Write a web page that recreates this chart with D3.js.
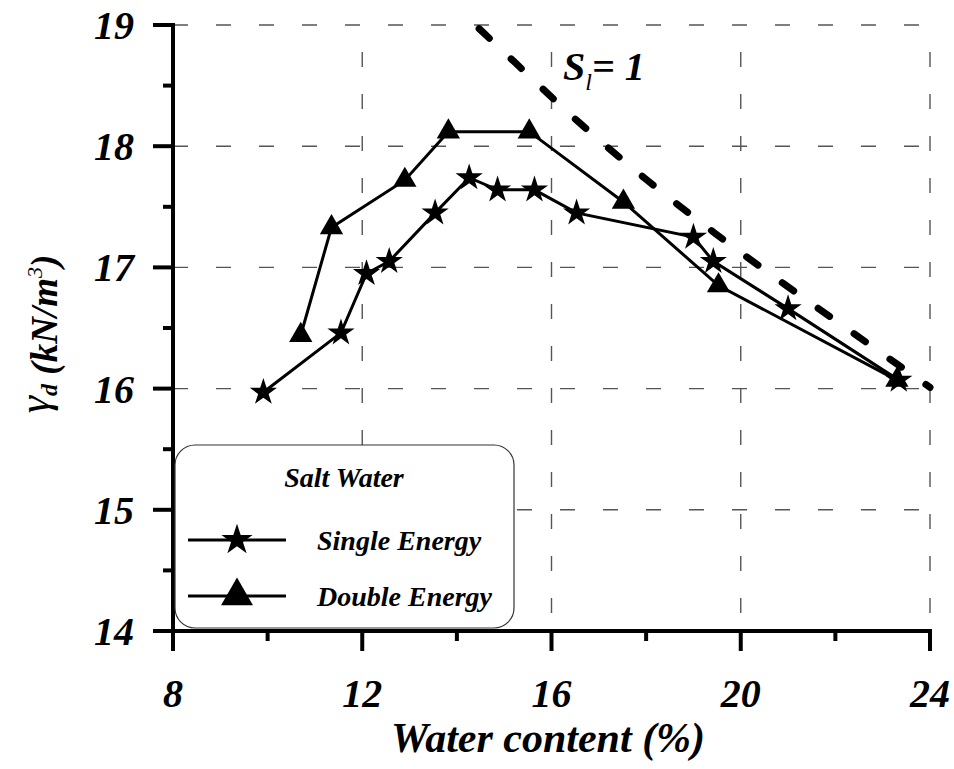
<!DOCTYPE html>
<html>
<head>
<meta charset="utf-8">
<script src="https://cdn.jsdelivr.net/npm/d3@7"></script>
<style>
    body { margin: 0; background: #fff; }
    svg text { font-family: "Liberation Serif", "Times New Roman", Times, "DejaVu Serif", serif; font-weight: 700; font-style: italic; fill: #000; }
</style>
</head>
<body>
<svg id="chart" width="954" height="769"></svg>
<script>
var xTicks = [8, 12, 16, 20, 24];
var xMinor = [10, 14, 18, 22];
var yTicks = [14, 15, 16, 17, 18, 19];
var yMinor = [14.5, 15.5, 16.5, 17.5, 18.5];

// single energy (stars)
var singleW = [9.91, 11.55, 12.09, 12.57, 13.54, 14.26, 14.86, 15.64, 16.53, 19.0, 19.42, 21.0, 23.34];
var singleG = [15.97, 16.46, 16.95, 17.05, 17.45, 17.74, 17.64, 17.64, 17.45, 17.25, 17.05, 16.66, 16.07];

// double energy (triangles)
var doubleW = [10.7, 11.35, 12.9, 13.82, 15.53, 17.52, 19.53, 23.3];
var doubleG = [16.44, 17.33, 17.72, 18.12, 18.12, 17.54, 16.85, 16.07];

// S_l = 1 line
var satW = [14.47, 15.23, 16.6, 18.02, 19.46, 20.89, 22.37, 24.0];
var satG = [18.97, 18.69, 18.19, 17.72, 17.28, 16.87, 16.46, 16.01];

var seriesNames = ["Single Energy", "Double Energy"];
var legendTitle = "Salt Water";

var FONT = '"Liberation Serif", "Times New Roman", Times, "DejaVu Serif", serif';

var svg = d3.select("#chart");
var x = d3.scaleLinear().domain([8, 24]).range([173, 930]);
var y = d3.scaleLinear().domain([14, 19]).range([631, 25]);

var pts = function(ws, gs) { return ws.map((w, i) => [w, gs[i]]); };
var single = pts(singleW, singleG);
var dbl = pts(doubleW, doubleG);
var sat = pts(satW, satG);

// grid
var grid = svg.append("g");
grid.selectAll(".hgrid")
    .data(yTicks.slice(1))
    .enter().append("line")
    .attr("x1", x(8)).attr("x2", x(24))
    .attr("y1", d => y(d)).attr("y2", d => y(d))
    .attr("stroke", "#555").attr("stroke-width", 1.4)
    .attr("stroke-dasharray", "15,28");
grid.selectAll(".vgrid")
    .data(xTicks.slice(1))
    .enter().append("line")
    .attr("x1", d => x(d)).attr("x2", d => x(d))
    .attr("y1", y(19)).attr("y2", y(14))
    .attr("stroke", "#555").attr("stroke-width", 1.4)
    .attr("stroke-dasharray", "15,27")
    .attr("stroke-dashoffset", 15);

// saturation line
var satLine = d3.line().x(d => x(d[0])).y(d => y(d[1])).curve(d3.curveMonotoneX);
svg.append("path")
    .attr("d", satLine(sat))
    .attr("fill", "none")
    .attr("stroke", "#000")
    .attr("stroke-width", 7)
    .attr("stroke-linecap", "round")
    .attr("stroke-dasharray", "14,30");

var line = d3.line().x(d => x(d[0])).y(d => y(d[1]));
var star = d3.symbol(d3.symbolStar, 230);
var tri = d3.symbol(d3.symbolTriangle, 235);

svg.append("path").attr("d", line(single))
    .attr("fill", "none").attr("stroke", "#000").attr("stroke-width", 3);
svg.append("path").attr("d", line(dbl))
    .attr("fill", "none").attr("stroke", "#000").attr("stroke-width", 3);

svg.selectAll(".star")
    .data(single)
    .enter().append("path")
    .attr("class", "star")
    .attr("d", star)
    .attr("transform", d => "translate(" + x(d[0]) + "," + y(d[1]) + ")");
svg.selectAll(".tri")
    .data(dbl)
    .enter().append("path")
    .attr("class", "tri")
    .attr("d", tri)
    .attr("transform", d => "translate(" + x(d[0]) + "," + y(d[1]) + ")");

// axes
var ax = svg.append("g").attr("stroke", "#000").attr("stroke-width", 4);
ax.append("line").attr("x1", x(8)).attr("x2", x(8)).attr("y1", y(19) - 2).attr("y2", y(14) + 2);
ax.append("line").attr("x1", x(8) - 2).attr("x2", x(24) + 2).attr("y1", y(14)).attr("y2", y(14));
ax.selectAll(".yt").data(yTicks).enter().append("line")
    .attr("x1", x(8) - 20).attr("x2", x(8)).attr("y1", d => y(d)).attr("y2", d => y(d));
ax.selectAll(".ym").data(yMinor).enter().append("line")
    .attr("x1", x(8) - 10).attr("x2", x(8)).attr("y1", d => y(d)).attr("y2", d => y(d));
ax.selectAll(".xt").data(xTicks).enter().append("line")
    .attr("x1", d => x(d)).attr("x2", d => x(d)).attr("y1", y(14)).attr("y2", y(14) + 20);
ax.selectAll(".xm").data(xMinor).enter().append("line")
    .attr("x1", d => x(d)).attr("x2", d => x(d)).attr("y1", y(14)).attr("y2", y(14) + 10);

svg.selectAll(".ylab").data(yTicks).enter().append("text")
    .attr("x", x(8) - 39).attr("y", d => y(d) + 14)
    .attr("text-anchor", "end")
    .attr("font-family", FONT)
    .style("font-size", "40px")
    .text(d => d);
svg.selectAll(".xlab").data(xTicks).enter().append("text")
    .attr("x", d => x(d)).attr("y", 707)
    .attr("text-anchor", "middle")
    .attr("font-family", FONT)
    .style("font-size", "40px")
    .text(d => d);

svg.append("text")
    .attr("x", 548).attr("y", 752)
    .attr("text-anchor", "middle")
    .attr("font-family", FONT)
    .style("font-size", "42px")
    .text("Water content (%)");

var yt = svg.append("text")
    .attr("transform", "translate(57,334) rotate(-90)")
    .attr("text-anchor", "middle")
    .attr("font-family", FONT)
    .style("font-size", "37px");
yt.append("tspan").attr("dy", -8).style("font-size", "44px").style("font-weight", "normal").text("γ");
yt.append("tspan").attr("dy", 8).style("font-size", "24px").text("d");
yt.append("tspan").text("  (kN/m");
yt.append("tspan").attr("dy", -15).style("font-size", "22px").style("font-weight", "normal").text("3");
yt.append("tspan").attr("dy", 15).text(")");

var sl = svg.append("text").attr("x", 563).attr("y", 80)
    .attr("font-family", FONT).style("font-size", "40px");
sl.append("tspan").text("S");
sl.append("tspan").attr("dy", 10).style("font-size", "24px").style("font-weight", "normal").text("l");
sl.append("tspan").attr("dy", -10).text("= 1");

// legend
var leg = svg.append("g");
leg.append("rect")
    .attr("x", 175).attr("y", 445).attr("width", 339).attr("height", 183)
    .attr("rx", 20).attr("ry", 20)
    .attr("fill", "#fff").attr("stroke", "#333").attr("stroke-width", 1.2);
leg.append("text")
    .attr("x", 344).attr("y", 487)
    .attr("text-anchor", "middle")
    .attr("font-family", FONT)
    .style("font-size", "28px")
    .text(legendTitle);
var legY = [540, 596];
var legSym = [d3.symbol(d3.symbolStar, 300), d3.symbol(d3.symbolTriangle, 440)];
seriesNames.forEach(function(name, i) {
    leg.append("line")
	.attr("x1", 188).attr("x2", 286).attr("y1", legY[i]).attr("y2", legY[i])
	.attr("stroke", "#000").attr("stroke-width", 3);
    leg.append("path")
	.attr("d", legSym[i])
	.attr("transform", "translate(237," + legY[i] + ")");
    leg.append("text")
	.attr("x", 317).attr("y", legY[i] + 10)
	.attr("font-family", FONT)
	.style("font-size", "28px")
	.text(name);
});
</script>
</body>
</html>
